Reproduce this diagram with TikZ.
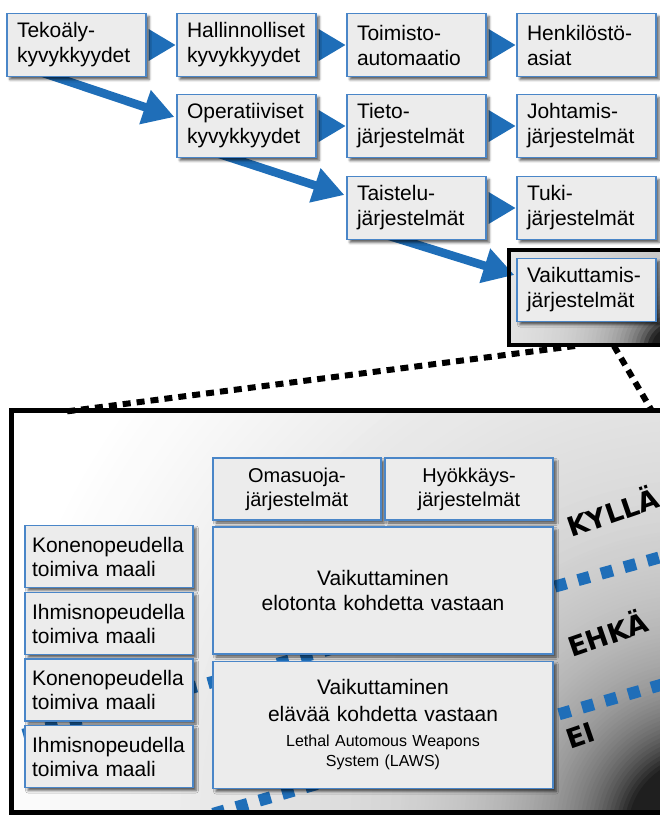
\documentclass[tikz,border=0pt]{standalone}
\usepackage{fontspec}
\setmainfont{Liberation Sans}
\newfontfamily\heavyfont{DejaVu Sans}
\usetikzlibrary{arrows.meta,calc,shadows.blur}
\pgfdeclarelayer{bg}
\pgfsetlayers{bg,main}
\definecolor{boxfill}{HTML}{ECECEC}
\definecolor{boxline}{HTML}{4A86C8}
\definecolor{arrblue}{HTML}{1F6EB8}
\begin{document}
\begin{tikzpicture}[x=1pt,y=-1pt,
  box/.style={draw=boxline,line width=1.2pt,fill=boxfill,rectangle,
    blur shadow={shadow xshift=3pt,shadow yshift=-3pt,shadow blur radius=2.5pt,shadow opacity=65}},
  topbox/.style={box,minimum width=139pt,minimum height=63pt,text width=119pt,inner xsep=10pt,inner ysep=0pt,align=left,font=\fontsize{21}{25}\selectfont},
  sidebox/.style={box,minimum width=168pt,minimum height=62pt,text width=154pt,inner xsep=7pt,inner ysep=0pt,align=left,font=\fontsize{21}{24}\selectfont},
  midbox/.style={box,minimum width=168pt,minimum height=62pt,text width=160pt,inner xsep=4pt,inner ysep=0pt,align=center,font=\fontsize{20}{24}\selectfont},
  widebox/.style={box,minimum width=340pt,minimum height=127pt,text width=330pt,inner xsep=5pt,inner ysep=0pt,align=center,font=\fontsize{21}{25}\selectfont},
  bigarrow/.style={draw=arrblue,line width=8.5pt,-{Triangle[length=31pt,width=34pt]}},
  chevron/.style={fill=arrblue},
  bluedash/.style={draw=arrblue,line width=12pt,dash pattern=on 12pt off 12pt},
  blackdot/.style={draw=black,line width=6pt,dash pattern=on 8pt off 6pt},
  frameline/.style={draw=black,line width=5pt},
  smallframe/.style={draw=black,line width=4pt},
  verdict/.style={font=\heavyfont\bfseries\fontsize{27}{27}\selectfont,rotate=19,anchor=base west,inner sep=0pt},
]
\useasboundingbox (0,0) rectangle (660,816);

% ---------- top boxes ----------
\node[topbox] (tek)  at (76.5,45)  {Tekoäly-\\kyvykkyydet};
\node[topbox] (hal)  at (246.5,45) {Hallinnolliset\\kyvykkyydet};
\node[topbox] (toim) at (416.5,45) {Toimisto-\\automaatio};
\node[topbox] (henk) at (586.5,45) {Henkilöstö-\\asiat};
\node[topbox] (oper) at (246.5,126) {Operatiiviset\\kyvykkyydet};
\node[topbox] (tieto) at (416.5,126) {Tieto-\\järjestelmät};
\node[topbox] (joht) at (586.5,126) {Johtamis-\\järjestelmät};
\node[topbox] (tai)  at (416.5,208) {Taistelu-\\järjestelmät};
\node[topbox] (tuki) at (586.5,208) {Tuki-\\järjestelmät};
\node[topbox] (vai)  at (586.5,290) {Vaikuttamis-\\järjestelmät};

% ---------- lower boxes ----------
\node[midbox] (oma) at (297,489) {Omasuoja-\\järjestelmät};
\node[midbox] (hyo) at (469,489) {Hyökkäys-\\järjestelmät};
\node[widebox] (elot) at (383,590.5) {Vaikuttaminen\\elotonta kohdetta vastaan\par\vspace{10pt}};
\node[widebox,font=\fontsize{21}{27}\selectfont] (elav) at (383,725) {Vaikuttaminen\\elävää kohdetta vastaan\par\vspace{5pt}\fontsize{16}{20}\selectfont\spaceskip=.3333em\xspaceskip=.5em Lethal Automous Weapons\\System (LAWS)\par};
\node[sidebox] (k1) at (109,556.5) {Konenopeudella\\toimiva maali};
\node[sidebox] (i1) at (109,623.5) {Ihmisnopeudella\\toimiva maali};
\node[sidebox] (k2) at (109,690)   {Konenopeudella\\toimiva maali};
\node[sidebox] (i2) at (109,756.5) {Ihmisnopeudella\\toimiva maali};

\coordinate (u1) at (0,741.2);
\coordinate (u2) at (680,551.7);
\coordinate (w1) at (190,820.5);
\coordinate (w2) at (680,679.4);
\coordinate (dl1) at (575,346);
\coordinate (dl2) at (66,411.5);
\coordinate (dr1) at (614,346);
\coordinate (dr2) at (652,411);

\begin{pgfonlayer}{bg}
% big frame gradient
\begin{scope}
\clip (11,410) rectangle (700,812);
\foreach \r in {900,890,...,300,296,292,...,8}{
  \pgfmathsetmacro\g{max(12,min(100,105-6800/\r+0.02*max(0,\r-500)))}
  \fill[white!\g!black] (700,830) circle[radius=\r];
}
\end{scope}
% small frame gradient
\begin{scope}
\clip (509,250) rectangle (700,345);
\foreach \r in {300,296,...,4}{
  \pgfmathsetmacro\g{max(12,min(100,103-2400/\r))}
  \fill[white!\g!black] (675,350) circle[radius=\r];
}
\end{scope}
% blue dashed boundaries
\begin{scope}
\clip (13.5,412.5) rectangle (700,810);
\draw[bluedash] (u1) -- (u2);
\draw[bluedash] (w1) -- (w2);
\end{scope}
% dotted zoom lines
\draw[blackdot] (dl1) -- (dl2);
\draw[blackdot] (dr1) -- (dr2);
% arrows
\draw[bigarrow] ($(tek.south)+(-36,-5)$) -- ($(oper.west)+(-2,-9)$);
\draw[bigarrow] ($(oper.south)+(-30,-5)$) -- ($(tai.west)+(-2,-13)$);
\draw[bigarrow] ($(tai.south)+(-30,-5)$) -- ($(vai.west)+(-2,-15)$);
\fill[chevron] ($(tek.east)+(2,-16)$) -- ($(hal.west)+(-1,0)$) -- ($(tek.east)+(2,16)$) -- cycle;
\fill[chevron] ($(hal.east)+(2,-16)$) -- ($(toim.west)+(-1,0)$) -- ($(hal.east)+(2,16)$) -- cycle;
\fill[chevron] ($(toim.east)+(2,-16)$) -- ($(henk.west)+(-1,0)$) -- ($(toim.east)+(2,16)$) -- cycle;
\fill[chevron] ($(oper.east)+(2,-16)$) -- ($(tieto.west)+(-1,0)$) -- ($(oper.east)+(2,16)$) -- cycle;
\fill[chevron] ($(tieto.east)+(2,-16)$) -- ($(joht.west)+(-1,0)$) -- ($(tieto.east)+(2,16)$) -- cycle;
\fill[chevron] ($(tai.east)+(2,-16)$) -- ($(tuki.west)+(-1,0)$) -- ($(tai.east)+(2,16)$) -- cycle;
\end{pgfonlayer}

% frames
\draw[smallframe] (509,250) rectangle (700,345);
\draw[frameline] (11.5,410.5) rectangle (700,812.5);

% verdict labels
\node[verdict] (kylla) at (571,538) {KYLLÄ};
\node[verdict] (ehka) at (572,658) {EHKÄ};
\node[verdict] (ei) at (570,750) {EI};
\end{tikzpicture}
\end{document}
